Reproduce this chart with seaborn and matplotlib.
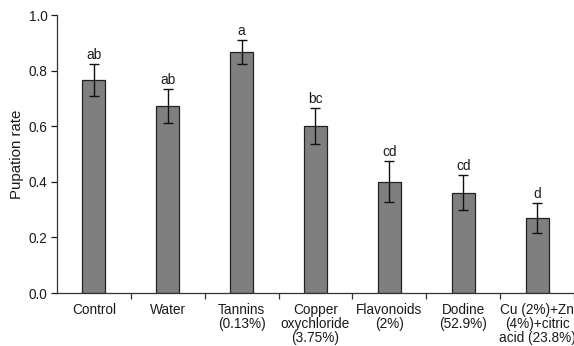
import matplotlib
matplotlib.use("Agg")
import matplotlib.pyplot as plt
import seaborn as sns
import pandas as pd
from matplotlib.ticker import FixedLocator

treatments = ["Control", "Water", "Tannins\n(0.13%)", "Copper\noxychloride\n(3.75%)",
              "Flavonoids\n(2%)", "Dodine\n(52.9%)", "Cu (2%)+Zn\n(4%)+citric\nacid (23.8%)"]
pupation = [0.765, 0.672, 0.867, 0.601, 0.400, 0.361, 0.270]
sem = [0.058, 0.061, 0.042, 0.064, 0.074, 0.062, 0.053]
groups = ["ab", "ab", "a", "bc", "cd", "cd", "d"]

sns.set_style("white")
plt.rcParams["font.family"] = ["Liberation Sans", "DejaVu Sans"]

df = pd.DataFrame({"treatment": treatments, "rate": pupation})

fig = plt.figure(figsize=(5.74, 3.46), dpi=100)
ax = fig.add_axes([0.0993, 0.153, 0.9007, 0.8036])

sns.barplot(data=df, x="treatment", y="rate", color="#7f7f7f", saturation=1,
            width=0.31, edgecolor="#222222", linewidth=0.9, ax=ax)
ax.errorbar(range(len(treatments)), pupation, yerr=sem, fmt="none",
            ecolor="#111111", elinewidth=1.0, capsize=3.6, capthick=1.0)

for i, (v, e, g) in enumerate(zip(pupation, sem, groups)):
    ax.annotate(g, xy=(i, v + e), xytext=(0, 1.5), textcoords="offset points",
                ha="center", va="bottom", fontsize=9.8, color="#1a1a1a")

ax.set_xlim(-0.5, len(treatments) - 0.5)
ax.set_ylim(0, 1.0)
ax.set_yticks([0, 0.2, 0.4, 0.6, 0.8, 1.0])
ax.set_yticklabels(["0.0", "0.2", "0.4", "0.6", "0.8", "1.0"])
ax.set_xlabel("")
ax.set_ylabel("Pupation rate", fontsize=10.8, labelpad=3, color="#1a1a1a")

ax.xaxis.set_minor_locator(FixedLocator([i + 0.5 for i in range(len(treatments))]))
ax.tick_params(axis="x", which="major", length=0, pad=7, labelsize=9.8, colors="#1a1a1a")
ax.tick_params(axis="x", which="minor", bottom=True, length=4, width=0.9, direction="out", color="#333333")
ax.tick_params(axis="y", which="major", left=True, length=4, width=0.9, direction="out",
               pad=3, labelsize=9.8, colors="#1a1a1a")
for lbl in ax.get_xticklabels():
    lbl.set_linespacing(1.0)

for side in ["top", "right"]:
    ax.spines[side].set_visible(False)
for side in ["left", "bottom"]:
    ax.spines[side].set_color("#333333")
    ax.spines[side].set_linewidth(0.9)

fig.savefig("out.png", dpi=100)
